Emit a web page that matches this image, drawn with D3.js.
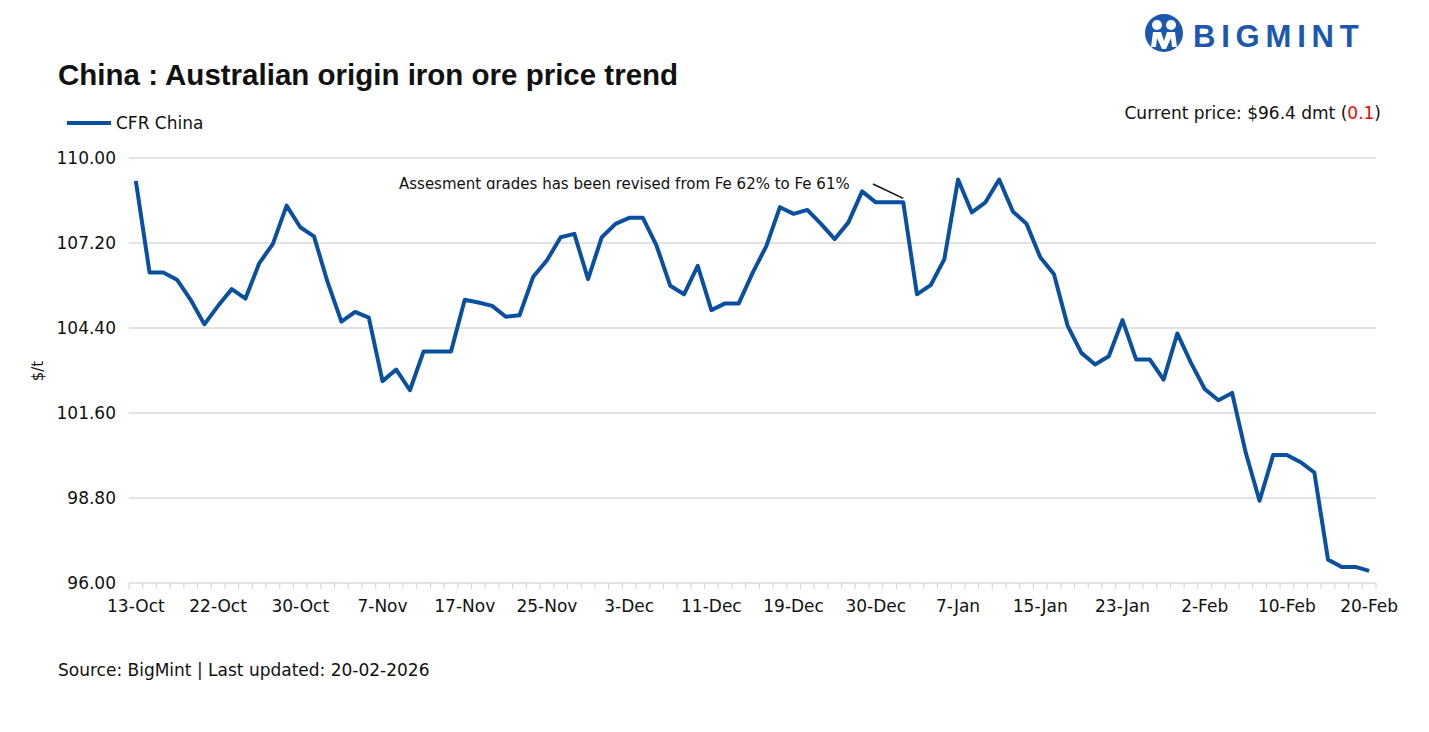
<!DOCTYPE html>
<html>
<head>
<meta charset="utf-8">
<script src="https://cdn.jsdelivr.net/npm/d3@7"></script>
<style>
  body { margin: 0; background: #fff; }
  svg { display: block; font-family: "DejaVu Sans", sans-serif; }
</style>
</head>
<body>
<div id="chart"></div>
<script>
// categories (assessment dates)
var dates = [
  "13-Oct","14-Oct","15-Oct","16-Oct","17-Oct","20-Oct","22-Oct","23-Oct","24-Oct","27-Oct","28-Oct","29-Oct","30-Oct",
  "31-Oct","3-Nov","4-Nov","5-Nov","6-Nov","7-Nov","10-Nov","11-Nov","12-Nov","13-Nov","14-Nov","17-Nov",
  "18-Nov","19-Nov","20-Nov","21-Nov","24-Nov","25-Nov","26-Nov","27-Nov","28-Nov","1-Dec","2-Dec","3-Dec",
  "4-Dec","5-Dec","8-Dec","9-Dec","10-Dec","11-Dec","12-Dec","15-Dec","16-Dec","17-Dec","18-Dec","19-Dec",
  "22-Dec","23-Dec","24-Dec","26-Dec","29-Dec","30-Dec","31-Dec","1-Jan","2-Jan","5-Jan","6-Jan","7-Jan",
  "8-Jan","9-Jan","12-Jan","13-Jan","14-Jan","15-Jan","16-Jan","19-Jan","20-Jan","21-Jan","22-Jan","23-Jan",
  "26-Jan","27-Jan","28-Jan","29-Jan","30-Jan","2-Feb","3-Feb","4-Feb","5-Feb","6-Feb","9-Feb","10-Feb",
  "11-Feb","12-Feb","13-Feb","16-Feb","19-Feb","20-Feb"
];

// CFR China, $/t
var cfrChina = [
  109.24,106.23,106.23,105.99,105.33,104.52,105.13,105.68,105.37,106.53,107.17,108.43,107.72,
  107.42,105.90,104.61,104.93,104.74,102.65,103.03,102.35,103.63,103.63,103.63,105.33,
  105.24,105.13,104.77,104.82,106.09,106.63,107.39,107.50,106.01,107.39,107.83,108.03,
  108.03,107.11,105.79,105.51,106.45,104.99,105.21,105.21,106.21,107.09,108.38,108.16,
  108.29,107.83,107.33,107.88,108.90,108.54,108.54,108.54,105.51,105.81,106.67,109.29,
  108.21,108.54,109.29,108.24,107.83,106.73,106.17,104.47,103.58,103.20,103.47,104.66,
  103.36,103.36,102.70,104.22,103.25,102.39,102.02,102.26,100.28,98.71,100.22,100.22,
  99.98,99.64,96.77,96.53,96.53,96.40
];

var tickLabels = ["13-Oct","22-Oct","30-Oct","7-Nov","17-Nov","25-Nov","3-Dec","11-Dec",
  "19-Dec","30-Dec","7-Jan","15-Jan","23-Jan","2-Feb","10-Feb","20-Feb"];
var yTicks = [96.00, 98.80, 101.60, 104.40, 107.20, 110.00];

var w = 1429, h = 732;
var lineColour = "#0a50a0";
var gridColour = "#d9d9d9";
var textColour = "#111";
var bodyFont = "17px";

var svg = d3.select("#chart").append("svg")
  .attr("width", w)
  .attr("height", h);

var xScale = d3.scaleBand()
  .domain(dates)
  .range([129, 1376])
  .padding(0);

var yScale = d3.scaleLinear()
  .domain([96, 110])
  .range([583, 158]);

function xMid(d) {
  return xScale(d) + xScale.bandwidth() / 2;
}

// gridlines
svg.append("g")
  .selectAll("line")
  .data(yTicks.slice(1))
  .enter()
  .append("line")
  .attr("x1", 129)
  .attr("x2", 1376)
  .attr("y1", function(d) { return yScale(d); })
  .attr("y2", function(d) { return yScale(d); })
  .attr("stroke", gridColour)
  .attr("stroke-width", 1.5);

// y axis labels
var yAxis = d3.axisLeft(yScale)
  .tickValues(yTicks)
  .tickFormat(d3.format(".2f"))
  .tickSize(0)
  .tickPadding(13);

var yg = svg.append("g")
  .attr("transform", "translate(129,0)")
  .call(yAxis);
yg.select(".domain").remove();
yg.selectAll("text")
  .attr("font-size", bodyFont)
  .attr("font-family", "DejaVu Sans, sans-serif")
  .attr("fill", textColour);

// x axis line + ticks between categories
var boundaries = dates.map(function(d) { return xScale(d); }).concat([1376]);
svg.append("line")
  .attr("x1", 129).attr("x2", 1376)
  .attr("y1", 583).attr("y2", 583)
  .attr("stroke", gridColour)
  .attr("stroke-width", 1.5);
svg.append("g")
  .selectAll("line")
  .data(boundaries)
  .enter()
  .append("line")
  .attr("x1", function(d) { return d; })
  .attr("x2", function(d) { return d; })
  .attr("y1", 583)
  .attr("y2", 589)
  .attr("stroke", gridColour)
  .attr("stroke-width", 1.2);

// x labels
svg.append("g")
  .selectAll("text")
  .data(tickLabels)
  .enter()
  .append("text")
  .attr("x", function(d) { return xMid(d); })
  .attr("y", 612)
  .attr("text-anchor", "middle")
  .attr("font-size", bodyFont)
  .attr("fill", textColour)
  .text(function(d) { return d; });

// price line
var line = d3.line()
  .x(function(d, i) { return xMid(dates[i]); })
  .y(function(d) { return yScale(d); });

svg.append("path")
  .datum(cfrChina)
  .attr("d", line)
  .attr("fill", "none")
  .attr("stroke", lineColour)
  .attr("stroke-width", 4)
  .attr("stroke-linejoin", "round");

// annotation (text box is clipped at the bottom in the original)
svg.append("clipPath")
  .attr("id", "noteClip")
  .append("rect")
  .attr("x", 390).attr("y", 165)
  .attr("width", 480).attr("height", 24);

svg.append("text")
  .attr("clip-path", "url(#noteClip)")
  .attr("x", 399)
  .attr("y", 189)
  .attr("font-size", "15px")
  .attr("fill", textColour)
  .text("Assesment grades has been revised from Fe 62% to Fe 61%");

svg.append("line")
  .attr("x1", 873).attr("y1", 184)
  .attr("x2", xMid(dates[56])).attr("y2", yScale(cfrChina[56]) - 4)
  .attr("stroke", textColour)
  .attr("stroke-width", 1.5);

// y axis title
svg.append("text")
  .attr("transform", "translate(43,371) rotate(-90)")
  .attr("text-anchor", "middle")
  .attr("font-size", "15px")
  .attr("fill", textColour)
  .text("$/t");

// title
svg.append("text")
  .attr("x", 58)
  .attr("y", 85)
  .attr("font-family", "Liberation Sans, Arial, sans-serif")
  .attr("font-size", "29.5px")
  .attr("font-weight", "bold")
  .attr("fill", textColour)
  .text("China : Australian origin iron ore price trend");

// legend
svg.append("line")
  .attr("x1", 67).attr("x2", 111)
  .attr("y1", 123).attr("y2", 123)
  .attr("stroke", lineColour)
  .attr("stroke-width", 4);
svg.append("text")
  .attr("x", 116)
  .attr("y", 129)
  .attr("font-size", bodyFont)
  .attr("fill", textColour)
  .text("CFR China");

// current price
var cp = svg.append("text")
  .attr("x", 1381)
  .attr("y", 119)
  .attr("text-anchor", "end")
  .attr("font-size", bodyFont)
  .attr("fill", textColour);
cp.append("tspan").text("Current price: $96.4 dmt (");
cp.append("tspan").attr("fill", "#ff0000").text("0.1");
cp.append("tspan").text(")");

// source
svg.append("text")
  .attr("x", 58)
  .attr("y", 676)
  .attr("font-size", bodyFont)
  .attr("fill", textColour)
  .text("Source: BigMint | Last updated: 20-02-2026");

// logo
var logoColour = "#1c57b0";
var logo = svg.append("g").attr("transform", "translate(1164,33)");
logo.append("circle").attr("r", 19).attr("fill", logoColour);
logo.append("circle").attr("cx", -7).attr("cy", -8).attr("r", 5).attr("fill", "#fff");
logo.append("circle").attr("cx", 7).attr("cy", -8).attr("r", 5).attr("fill", "#fff");
logo.append("path")
  .attr("d", "M-13,14 L-11,-1 L-3,-1 L0,8 L3,-1 L11,-1 L13,14 L8,14 L7,5 L2,16 L-2,16 L-7,5 L-8,14 Z")
  .attr("fill", "#fff");
svg.append("text")
  .attr("x", 1193)
  .attr("y", 47)
  .attr("font-family", "Liberation Sans, Arial, sans-serif")
  .attr("font-size", "31px")
  .attr("font-weight", "bold")
  .attr("letter-spacing", "5.8px")
  .attr("fill", logoColour)
  .text("BIGMINT");
</script>
</body>
</html>
